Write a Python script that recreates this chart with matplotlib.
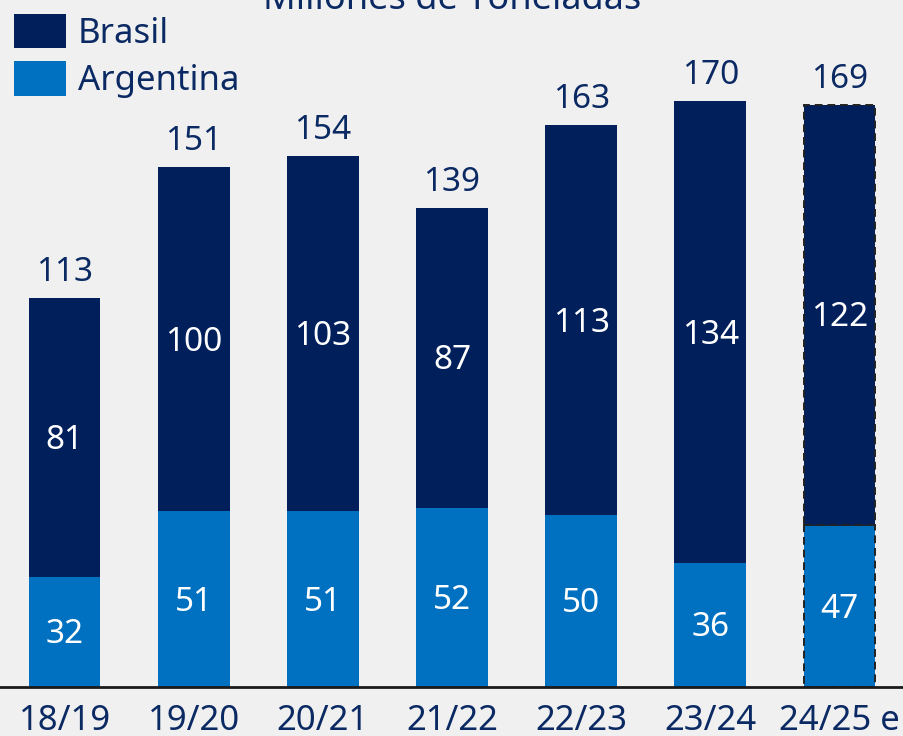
import matplotlib
matplotlib.use("Agg")
import matplotlib.pyplot as plt
import numpy as np

campaigns = ["18/19", "19/20", "20/21", "21/22", "22/23", "23/24", "24/25 e"]
argentina = [32, 51, 51, 52, 50, 36, 47]
brasil = [81, 100, 103, 87, 113, 134, 122]
totals = [113, 151, 154, 139, 163, 170, 169]

BG = "#f0f0f0"
NAVY = "#001f5b"
BLUE = "#0070c0"
TEXT = "#0b2a63"

plt.rcParams["font.family"] = ["Noto Sans", "DejaVu Sans"]

fig = plt.figure(figsize=(9.04, 7.36), dpi=100, facecolor=BG)
ax = fig.add_axes([0, 49 / 736, 1, 687 / 736])
ax.set_facecolor(BG)

x = np.arange(len(campaigns))
w = 0.555
est = len(campaigns) - 1

arg_bars = ax.bar(x, argentina, w, color=BLUE, label="Argentina", zorder=2)
bra_bars = ax.bar(x, brasil, w, bottom=argentina, color=NAVY, label="Brasil", zorder=2)

# estimated campaign: dashed outline on both segments
for bars in (arg_bars, bra_bars):
    b = bars[est]
    b.set_edgecolor("#222222")
    b.set_linestyle((0, (4, 2.5)))
    b.set_linewidth(1.4)

for i in range(len(campaigns)):
    ax.annotate(str(argentina[i]), (x[i], argentina[i] / 2), xytext=(0, -3),
                textcoords="offset pixels", ha="center", va="center",
                color="white", fontsize=24)
    ax.annotate(str(brasil[i]), (x[i], argentina[i] + brasil[i] / 2),
                xytext=(0, -3), textcoords="offset pixels", ha="center",
                va="center", color="white", fontsize=24)
    ax.annotate(str(totals[i]), (x[i], totals[i]), xytext=(0, 9),
                textcoords="offset pixels", ha="center", va="bottom",
                color=TEXT, fontsize=24)

ax.set_xlim(-0.5, len(campaigns) - 0.5)
ax.set_ylim(0, 199.4)
ax.set_yticks([])
ax.set_xticks(x)
ax.set_xticklabels(campaigns, fontsize=25, color=TEXT)
ax.tick_params(axis="x", length=0, pad=12)
for s in ("top", "right", "left"):
    ax.spines[s].set_visible(False)
ax.spines["bottom"].set_color("#1a1a1a")
ax.spines["bottom"].set_linewidth(2)
ax.spines["bottom"].set_zorder(3)

fig.text(0.5, 1.0, "Millones de Toneladas", ha="center", va="center",
         color=TEXT, fontsize=26)

handles = [bra_bars, arg_bars]
ax.legend(handles, ["Brasil", "Argentina"], loc="upper left",
          bbox_to_anchor=(0.0, 1.0), frameon=False, fontsize=25,
          labelcolor=TEXT, handlelength=1.5, handleheight=1.15,
          handletextpad=0.35, labelspacing=0.3, borderaxespad=0.3,
          borderpad=0.1)

fig.savefig("out.png", dpi=100, facecolor=BG)
